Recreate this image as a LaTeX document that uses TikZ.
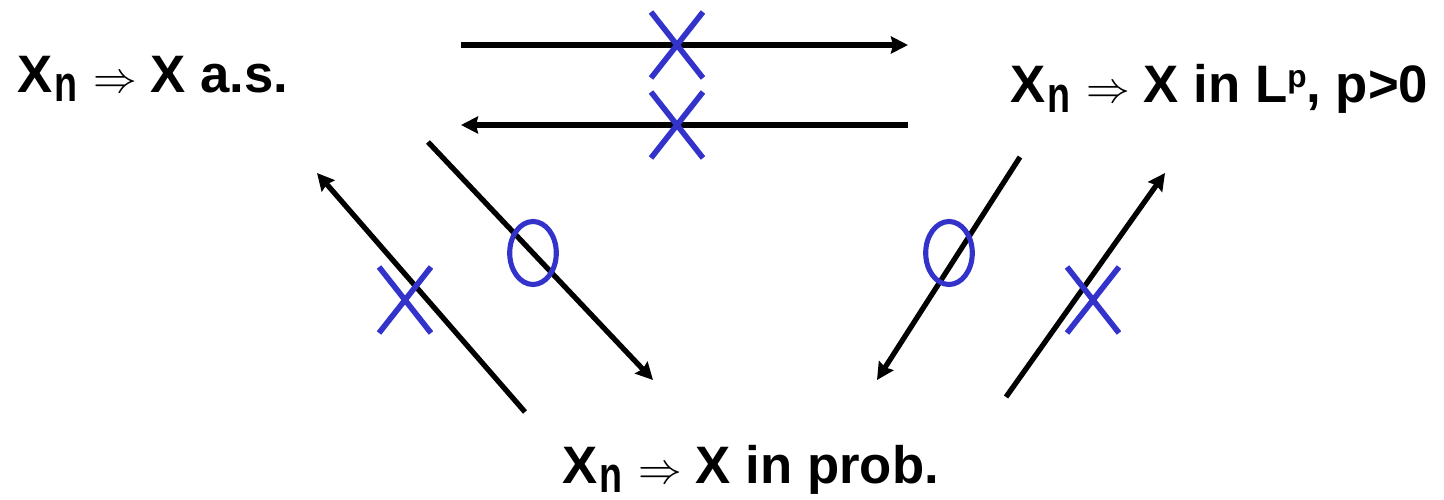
\documentclass[tikz,border=0pt]{standalone}
\usepackage{fontspec}
\setmainfont{Liberation Sans}
\newfontfamily\narrowfont{Liberation Sans}[FakeStretch=0.74]
\usetikzlibrary{arrows.meta}
\definecolor{xblue}{RGB}{51,51,204}
\newcommand{\myXn}{X\hspace{1pt}\raisebox{-5.5pt}{\narrowfont\bfseries\fontsize{29}{29}\selectfont n}}
\newcommand{\myimpl}{\hspace{9pt}{\fontsize{36}{36}\selectfont$\Rightarrow$}\hspace{8pt}}
\tikzset{
  lbl/.style={inner sep=0pt, anchor=base west, font=\bfseries\fontsize{30}{34}\selectfont},
  conn/.style={line width=3pt, black, -{Stealth[length=0.34cm,width=0.34cm,inset=0.04cm]}},
  bluemark/.style={line width=3.2pt, xblue},
  pics/crossmark/.style={code={
    \draw[bluemark] (-26,-33) -- (26,33);
    \draw[bluemark] (-26,33) -- (26,-33);}},
  pics/ringmark/.style={code={
    \draw[line width=2.9pt, xblue] (0,0) ellipse [x radius=23.3, y radius=31.5];}}
}
\begin{document}
\begin{tikzpicture}[x=0.02cm, y=-0.02cm]
\useasboundingbox (0,0) rectangle (1444,500);
% labels
\node[lbl] (as) at (17,92) {\myXn\myimpl X a.s.};
\node[lbl] (lp) at (1010,103) {\myXn\myimpl X in L\raisebox{9pt}{\fontsize{18}{18}\selectfont p}, p>0};
\node[lbl] (prob) at (562,483) {\myXn\myimpl X in prob.};
% connector end points
\coordinate (t1a) at (461,45);  \coordinate (t1b) at (908,45);
\coordinate (t2a) at (908,125); \coordinate (t2b) at (461,125);
\coordinate (l1a) at (525,412); \coordinate (l1b) at (317,173);
\coordinate (l2a) at (428,142); \coordinate (l2b) at (653,380);
\coordinate (r1a) at (1020,157); \coordinate (r1b) at (877,380);
\coordinate (r2a) at (1006,397); \coordinate (r2b) at (1165,173);
% connectors
\draw[conn] (t1a) -- (t1b);
\draw[conn] (t2a) -- (t2b);
\draw[conn] (l1a) -- (l1b);
\draw[conn] (l2a) -- (l2b);
\draw[conn] (r1a) -- (r1b);
\draw[conn] (r2a) -- (r2b);
% marks
\pic at (677,45) {crossmark};
\pic at (677,125) {crossmark};
\pic at (405,300) {crossmark};
\pic at (1093,300) {crossmark};
\pic at (533,253) {ringmark};
\pic at (949,253) {ringmark};
\end{tikzpicture}
\end{document}
